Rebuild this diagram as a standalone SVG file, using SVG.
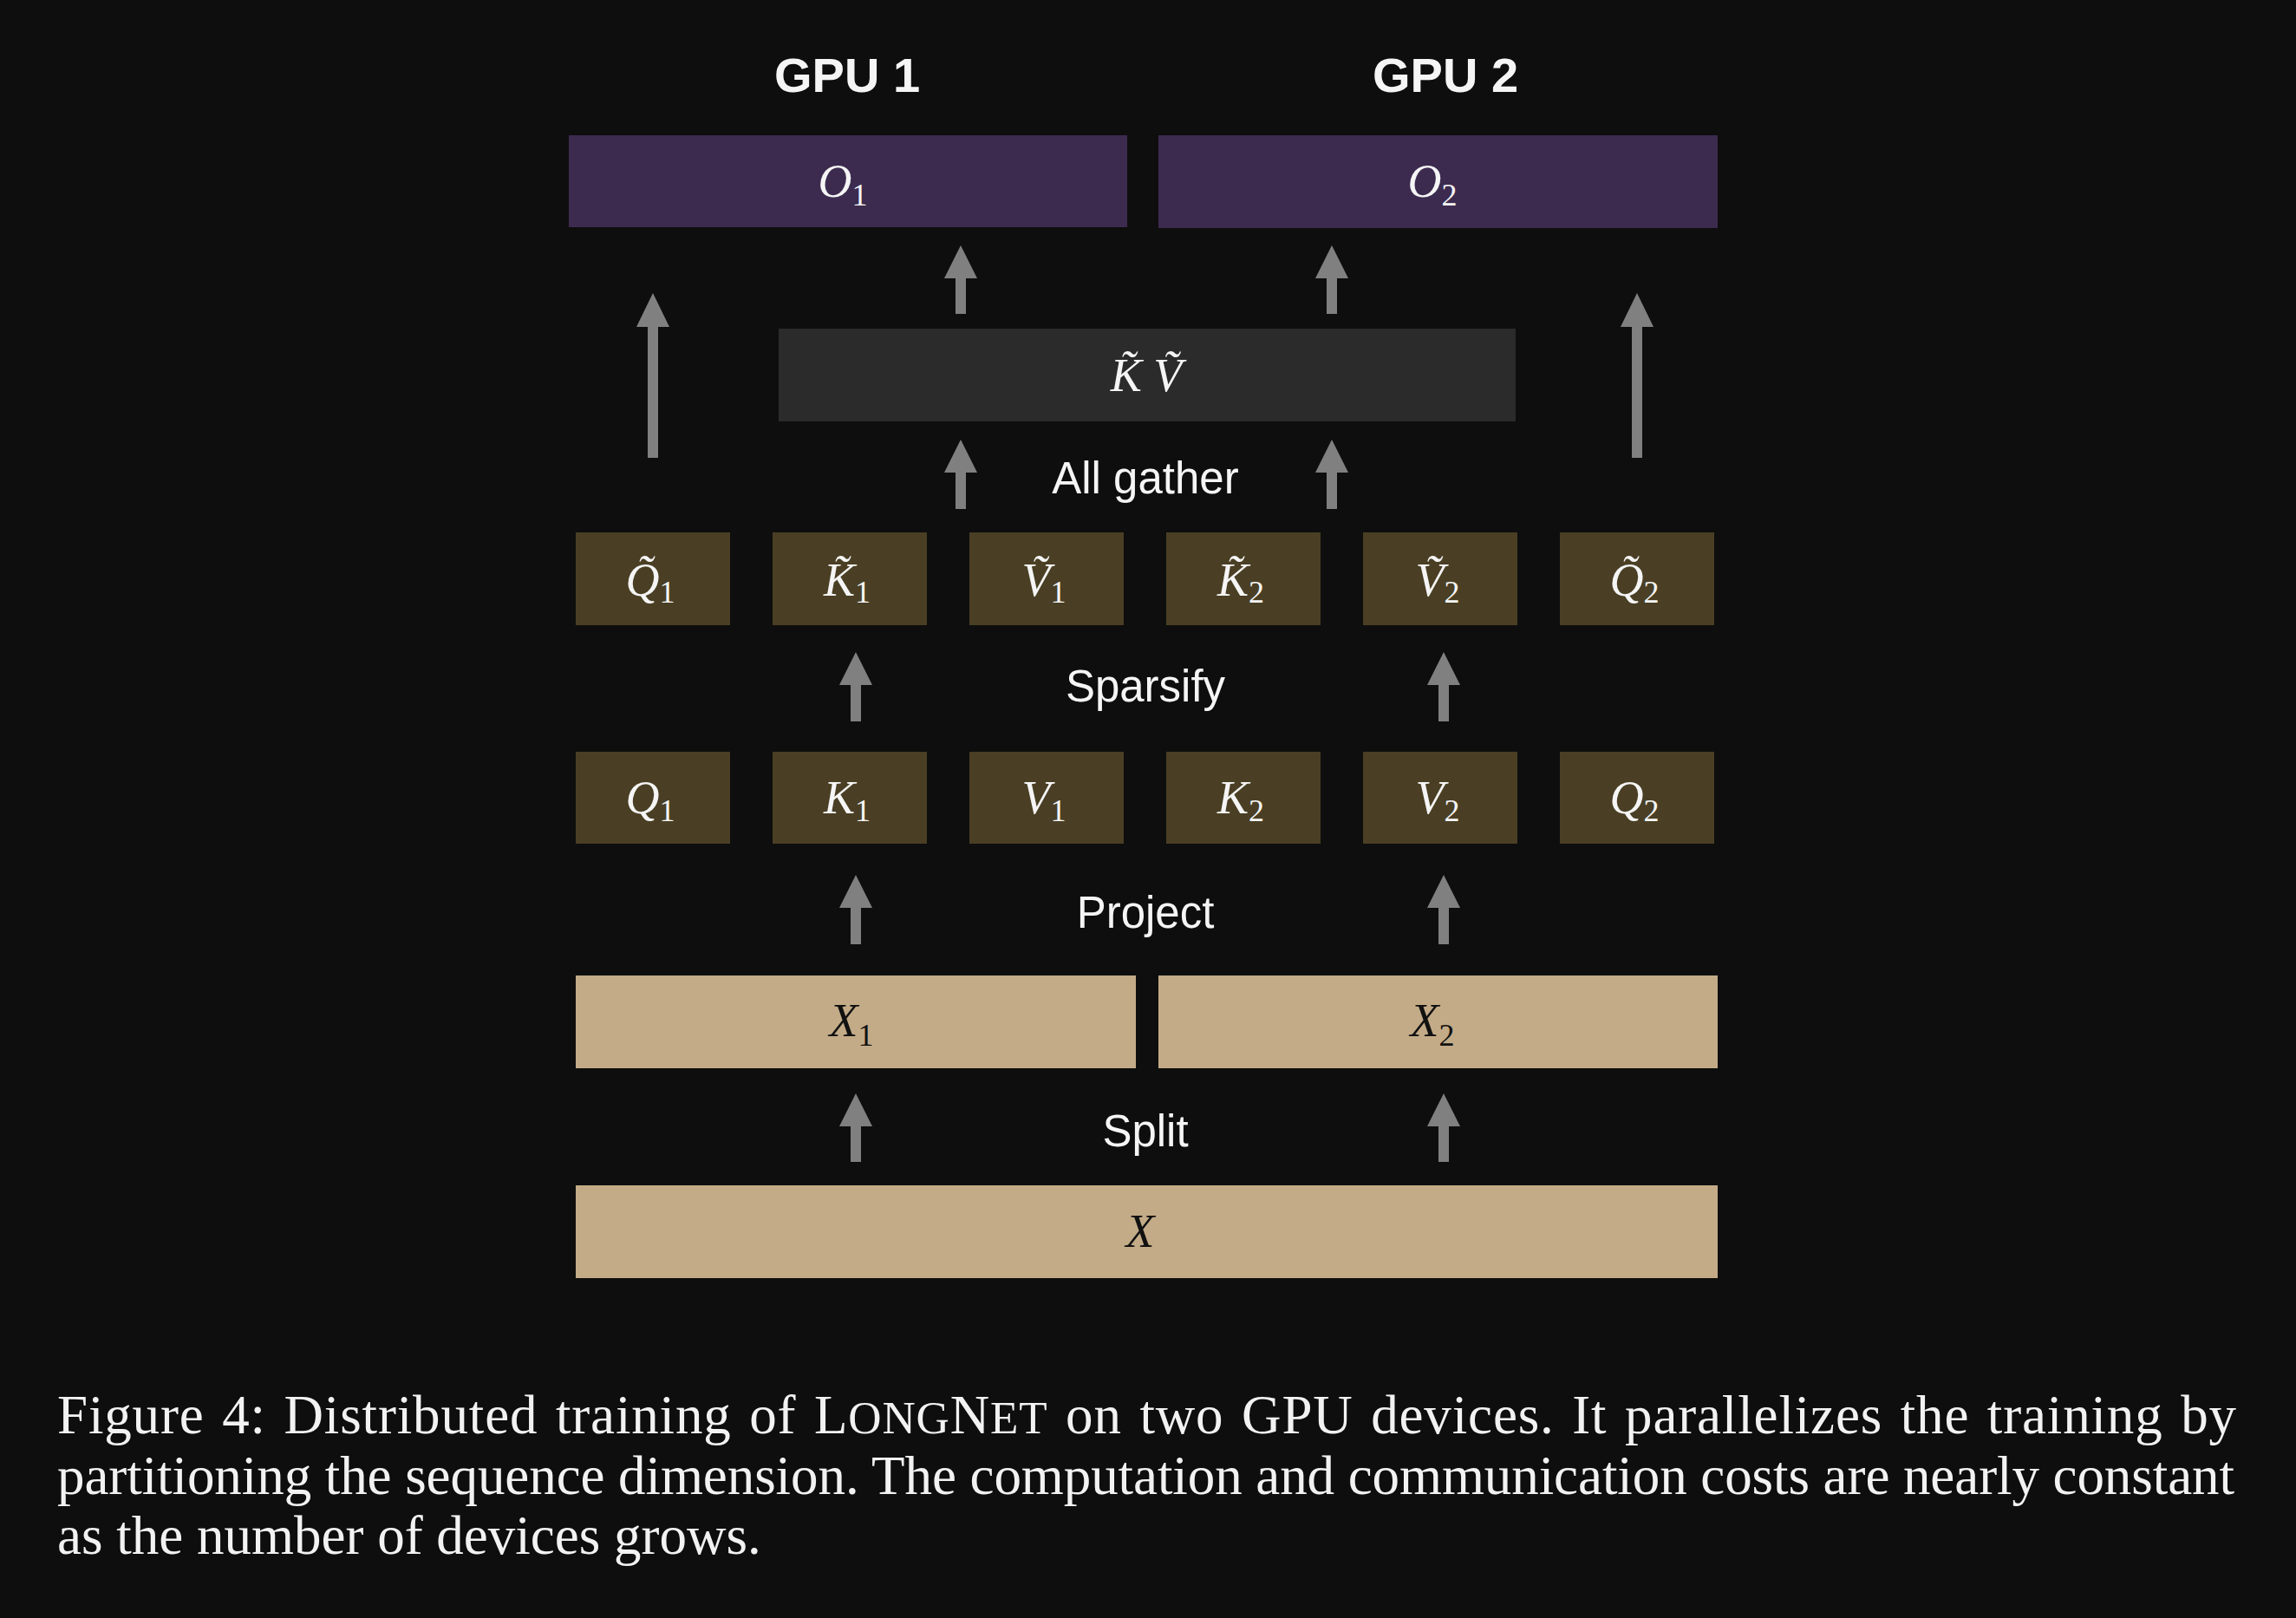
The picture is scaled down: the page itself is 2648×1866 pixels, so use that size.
<svg xmlns="http://www.w3.org/2000/svg" width="2648" height="1866" viewBox="0 0 2648 1866">
<style>
.bg{fill:#0e0e0e}
.purple{fill:#3c2b4f}
.gray{fill:#2b2b2b}
.olive{fill:#4a3f24}
.tan{fill:#c3ab87}
.arrow{fill:#808080}
.hdr{font-family:"Liberation Sans",Arial,sans-serif;font-weight:bold;font-size:56px;fill:#f5f5f5;text-anchor:middle}
.op{font-family:"Liberation Sans",Arial,sans-serif;font-size:51px;fill:#f5f5f5;text-anchor:middle}
.m{font-family:"Liberation Serif","Times New Roman",serif;font-style:italic;font-size:54px;text-anchor:middle}
.w{fill:#f5f5f5}
.k{fill:#111111}
.sub{font-style:normal;font-size:36px}
.cap{font-family:"Liberation Serif","Times New Roman",serif;font-size:63px;fill:#f2f2f2}
.sc{font-size:53px}
</style>
<rect class="bg" x="0" y="0" width="2648" height="1866"/>

<text class="hdr" x="977" y="106">GPU 1</text>
<text class="hdr" x="1667" y="106">GPU 2</text>

<g id="connectors">
<polygon class="arrow" points="747,528 747,377 734,377 753,338 772,377 759,377 759,528"/>
<polygon class="arrow" points="1882,528 1882,377 1869,377 1888,338 1907,377 1894,377 1894,528"/>
<polygon class="arrow" points="1102,362 1102,321 1089,321 1108,283 1127,321 1114,321 1114,362"/>
<polygon class="arrow" points="1530,362 1530,321 1517,321 1536,283 1555,321 1542,321 1542,362"/>
<polygon class="arrow" points="1102,587 1102,545 1089,545 1108,507 1127,545 1114,545 1114,587"/>
<polygon class="arrow" points="1530,587 1530,545 1517,545 1536,507 1555,545 1542,545 1542,587"/>
<polygon class="arrow" points="981,832 981,790 968,790 987,752 1006,790 993,790 993,832"/>
<polygon class="arrow" points="1659,832 1659,790 1646,790 1665,752 1684,790 1671,790 1671,832"/>
<polygon class="arrow" points="981,1089 981,1047 968,1047 987,1009 1006,1047 993,1047 993,1089"/>
<polygon class="arrow" points="1659,1089 1659,1047 1646,1047 1665,1009 1684,1047 1671,1047 1671,1089"/>
<polygon class="arrow" points="981,1340 981,1299 968,1299 987,1261 1006,1299 993,1299 993,1340"/>
<polygon class="arrow" points="1659,1340 1659,1299 1646,1299 1665,1261 1684,1299 1671,1299 1671,1340"/>
</g>

<g id="O1"><rect class="purple" x="656" y="156" width="644" height="106"/><text class="m w" x="972" y="227">O<tspan class="sub" dy="10">1</tspan></text></g>
<g id="O2"><rect class="purple" x="1336" y="156" width="645" height="107"/><text class="m w" x="1652" y="227">O<tspan class="sub" dy="10">2</tspan></text></g>

<g id="KV"><rect class="gray" x="898" y="379" width="850" height="107"/><text class="m w" x="1322" y="451">K̃ Ṽ</text></g>

<text class="op" x="1321" y="569">All gather</text>

<g id="Qt1"><rect class="olive" x="664" y="614" width="178" height="107"/><text class="m w" x="750" y="687">Q̃<tspan class="sub" dy="8">1</tspan></text></g>
<g id="Kt1"><rect class="olive" x="891" y="614" width="178" height="107"/><text class="m w" x="977" y="687">K̃<tspan class="sub" dy="8">1</tspan></text></g>
<g id="Vt1"><rect class="olive" x="1118" y="614" width="178" height="107"/><text class="m w" x="1204" y="687">Ṽ<tspan class="sub" dy="8">1</tspan></text></g>
<g id="Kt2"><rect class="olive" x="1345" y="614" width="178" height="107"/><text class="m w" x="1431" y="687">K̃<tspan class="sub" dy="8">2</tspan></text></g>
<g id="Vt2"><rect class="olive" x="1572" y="614" width="178" height="107"/><text class="m w" x="1658" y="687">Ṽ<tspan class="sub" dy="8">2</tspan></text></g>
<g id="Qt2"><rect class="olive" x="1799" y="614" width="178" height="107"/><text class="m w" x="1885" y="687">Q̃<tspan class="sub" dy="8">2</tspan></text></g>

<text class="op" x="1321" y="809">Sparsify</text>

<g id="Q1"><rect class="olive" x="664" y="867" width="178" height="106"/><text class="m w" x="750" y="938">Q<tspan class="sub" dy="9">1</tspan></text></g>
<g id="K1"><rect class="olive" x="891" y="867" width="178" height="106"/><text class="m w" x="977" y="938">K<tspan class="sub" dy="9">1</tspan></text></g>
<g id="V1"><rect class="olive" x="1118" y="867" width="178" height="106"/><text class="m w" x="1204" y="938">V<tspan class="sub" dy="9">1</tspan></text></g>
<g id="K2"><rect class="olive" x="1345" y="867" width="178" height="106"/><text class="m w" x="1431" y="938">K<tspan class="sub" dy="9">2</tspan></text></g>
<g id="V2"><rect class="olive" x="1572" y="867" width="178" height="106"/><text class="m w" x="1658" y="938">V<tspan class="sub" dy="9">2</tspan></text></g>
<g id="Q2"><rect class="olive" x="1799" y="867" width="178" height="106"/><text class="m w" x="1885" y="938">Q<tspan class="sub" dy="9">2</tspan></text></g>

<text class="op" x="1321" y="1070">Project</text>

<g id="X1"><rect class="tan" x="664" y="1125" width="646" height="107"/><text class="m k" x="982" y="1195">X<tspan class="sub" dy="11">1</tspan></text></g>
<g id="X2"><rect class="tan" x="1336" y="1125" width="645" height="107"/><text class="m k" x="1652" y="1195">X<tspan class="sub" dy="11">2</tspan></text></g>

<text class="op" x="1321" y="1322">Split</text>

<g id="X"><rect class="tan" x="664" y="1367" width="1317" height="107"/><text class="m k" x="1315" y="1438">X</text></g>

<text class="cap" x="66" y="1653" word-spacing="4" textLength="2513" lengthAdjust="spacing">Figure 4: Distributed training of L<tspan class="sc">ONG</tspan>N<tspan class="sc">ET</tspan> on two GPU devices. It parallelizes the training by</text>
<text class="cap" x="66" y="1723" textLength="2511" lengthAdjust="spacing">partitioning the sequence dimension. The computation and communication costs are nearly constant</text>
<text class="cap" x="66" y="1792">as the number of devices grows.</text>
</svg>
